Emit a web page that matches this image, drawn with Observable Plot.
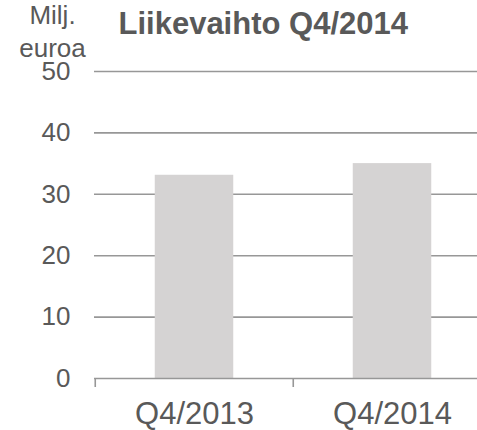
<!DOCTYPE html>
<html>
<head>
<meta charset="utf-8">
<script src="https://cdn.jsdelivr.net/npm/d3@7"></script>
<script src="https://cdn.jsdelivr.net/npm/@observablehq/plot@0.6"></script>
<style>
  html, body { margin: 0; padding: 0; background: #fff; }
  #chart svg { display: block; font-family: "Liberation Sans", Arial, sans-serif; }
</style>
</head>
<body>
<div id="chart"></div>
<script>
const categories = ["Q4/2013", "Q4/2014"];
const values = [33.1, 35.0];
const yTicks = [0, 10, 20, 30, 40, 50];
const title = "Liikevaihto Q4/2014";
const unitLabel = "Milj.\neuroa";

const data = categories.map((q, i) => ({q, value: values[i]}));

const W = 477, H = 430;
const mL = 94, mT = 71, mB = 52;
const xRange = [mL, 491];
const step = (xRange[1] - xRange[0]) / categories.length;
const barWidth = 79;
const inset = (step - barWidth) / 2;
const textColor = "#595959";
const lineColor = "#979797";

const chart = Plot.plot({
  width: W,
  height: H,
  marginLeft: mL,
  marginRight: 0,
  marginTop: mT,
  marginBottom: mB,
  style: {fontFamily: "'Liberation Sans', Arial, sans-serif", color: textColor, background: "#fff"},
  x: {domain: categories, range: xRange, padding: 0},
  y: {domain: [0, 50]},
  marks: [
    Plot.ruleY(yTicks.filter(d => d > 0), {stroke: lineColor, strokeWidth: 1.6}),
    Plot.barY(data, {x: "q", y: "value", fill: "#d5d3d3", insetLeft: inset, insetRight: inset}),
    Plot.ruleY([0], {stroke: lineColor, strokeWidth: 1.6}),
    Plot.ruleX(categories, {x: d => d, y1: 0, y2: 0, insetBottom: -9, dx: -step / 2, stroke: lineColor, strokeWidth: 1.6}),
    Plot.axisY(yTicks, {tickSize: 0, tickPadding: 24, fontSize: 26, fill: textColor, label: null}),
    Plot.axisX(categories, {tickSize: 0, tickPadding: 23, fontSize: 31, fill: textColor, label: null}),
    Plot.text([title], {frameAnchor: "top-left", textAnchor: "start", lineAnchor: "bottom", dx: 24, dy: -38, fontSize: 31, fontWeight: "bold", fill: textColor}),
    Plot.text([unitLabel], {frameAnchor: "top-left", textAnchor: "middle", lineAnchor: "bottom", lineHeight: 1.25, dx: -42, dy: -15, fontSize: 26, fill: textColor})
  ]
});
document.getElementById("chart").appendChild(chart);
</script>
</body>
</html>
